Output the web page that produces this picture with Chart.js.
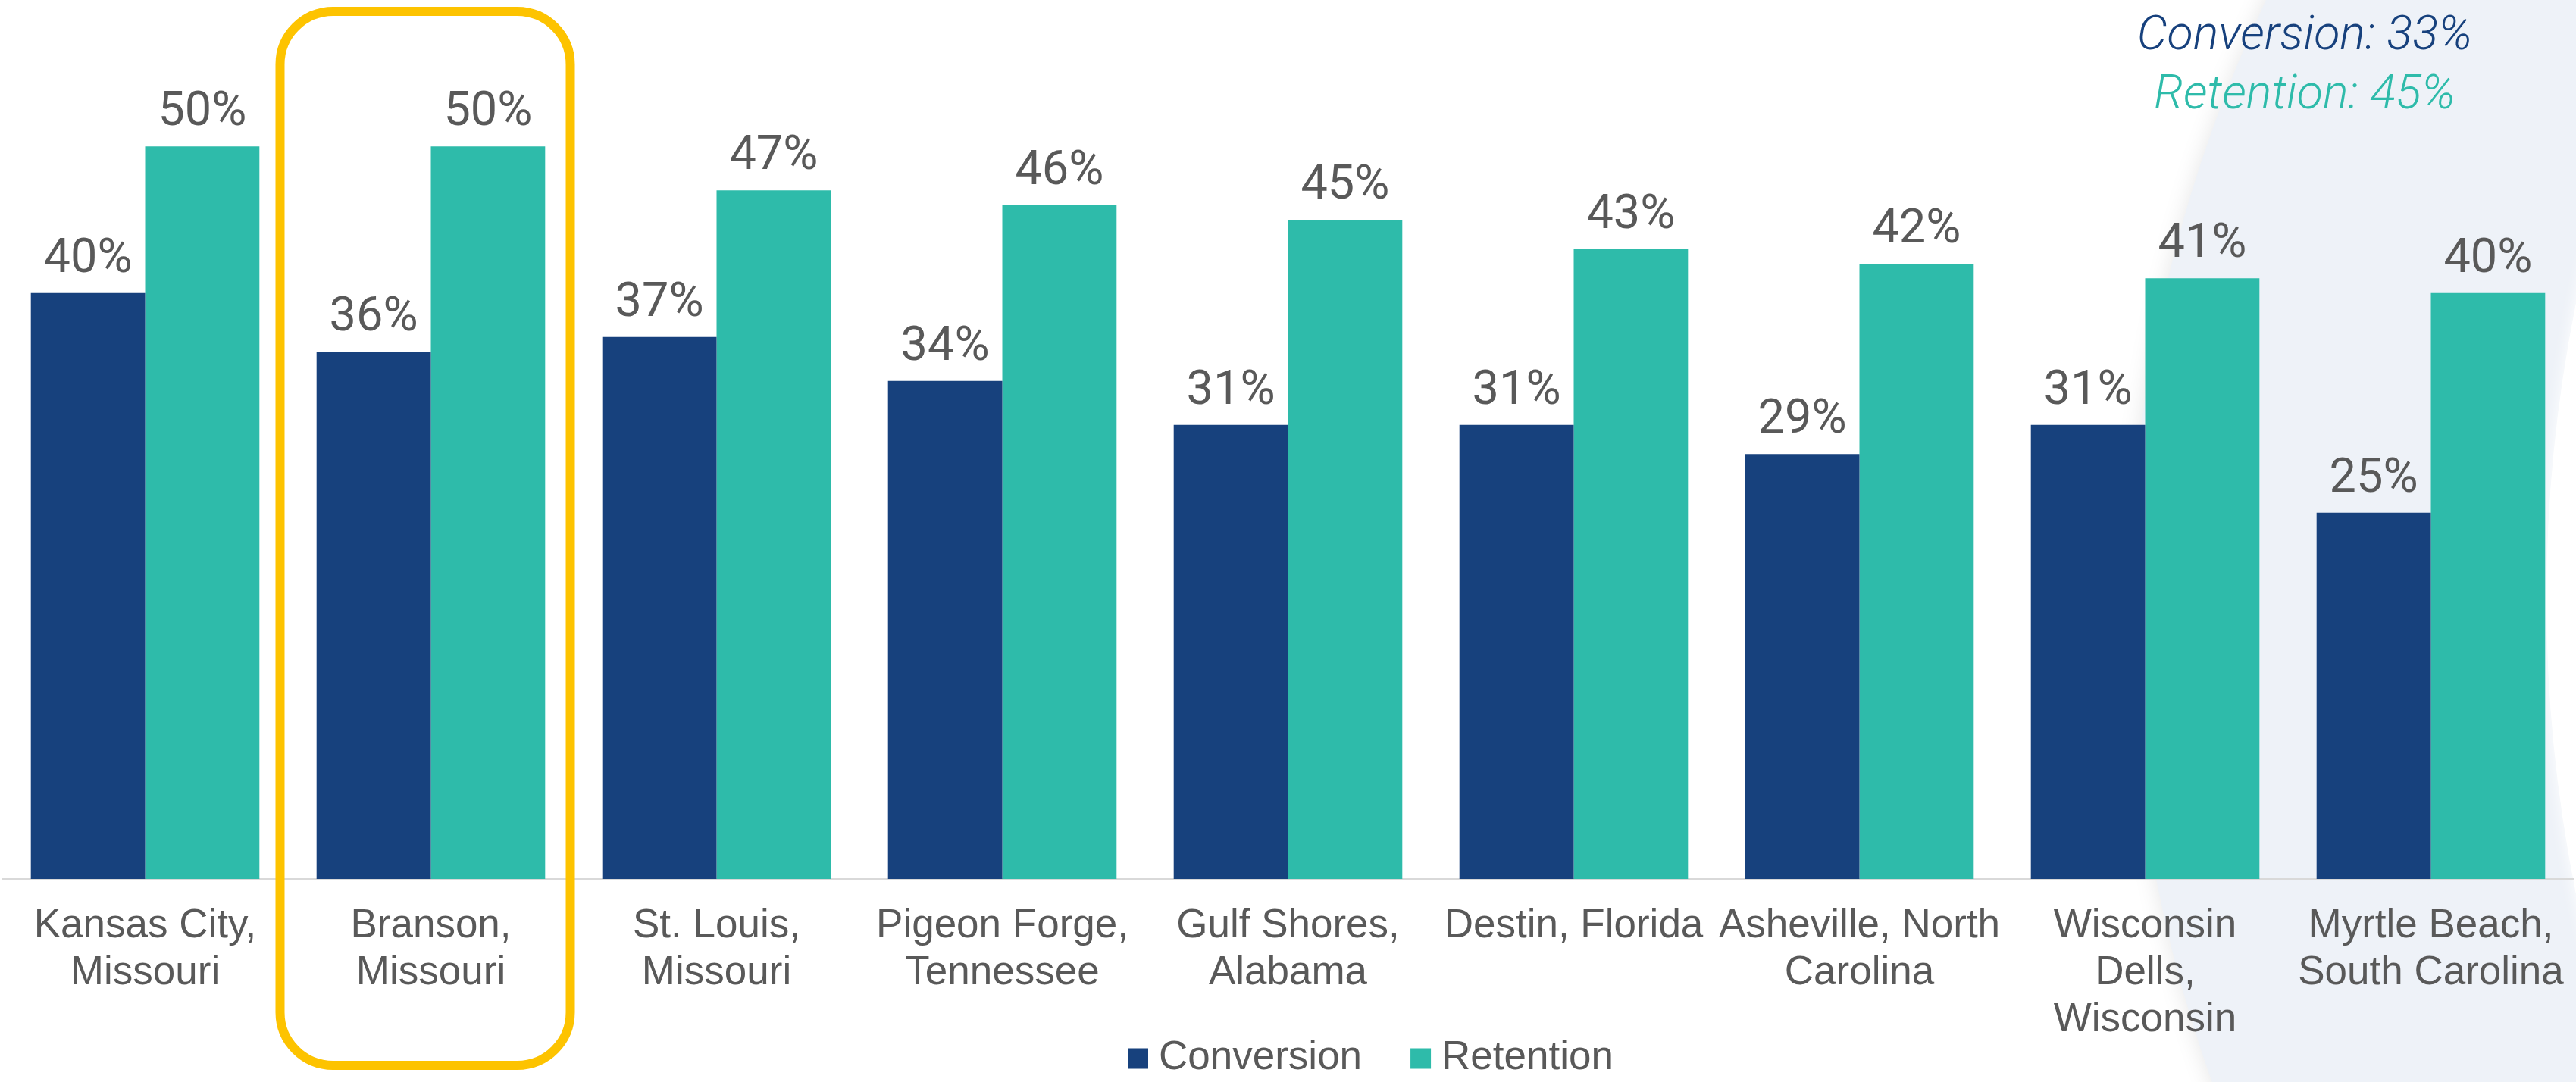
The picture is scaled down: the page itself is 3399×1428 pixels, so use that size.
<!DOCTYPE html>
<html>
<head>
<meta charset="utf-8">
<script src="https://cdn.jsdelivr.net/npm/chart.js@4.4.0/dist/chart.umd.min.js"></script>
<style>
    html, body { margin: 0; padding: 0; background: #ffffff; }
    #wrap { width: 3399px; height: 1428px; }
</style>
</head>
<body>
<div id="wrap"><canvas id="chartCanvas" width="3399" height="1428"></canvas></div>
<script>
"use strict";

const cities = [
    ['Kansas City,', 'Missouri'],
    ['Branson,', 'Missouri'],
    ['St. Louis,', 'Missouri'],
    ['Pigeon Forge,', 'Tennessee'],
    ['Gulf Shores,', 'Alabama'],
    ['Destin, Florida'],
    ['Asheville, North', 'Carolina'],
    ['Wisconsin', 'Dells,', 'Wisconsin'],
    ['Myrtle Beach,', 'South Carolina']
];
const conversion = [40, 36, 37, 34, 31, 31, 29, 31, 25];
const retention = [50, 50, 47, 46, 45, 43, 42, 41, 40];
const averageNotes = ['Conversion: 33%', 'Retention: 45%'];
const highlightIndex = 1; // Branson

const NAVY = '#17417D';
const TEAL = '#2EBBAA';
const GREY_TEXT = '#595959';
const SANS = '"Liberation Sans", Arial, sans-serif';

// soft page background: light swoosh on the right
const backdrop = {
    id: 'backdrop',
    beforeDraw(chart) {
        const ctx = chart.ctx;
        ctx.save();
        ctx.fillStyle = '#ffffff';
        ctx.fillRect(0, 0, chart.width, chart.height);

        ctx.shadowColor = 'rgba(0, 0, 0, 0.10)';
        ctx.shadowBlur = 30;
        ctx.fillStyle = '#EEF2F8';
        ctx.beginPath();
        ctx.arc(4678, 800, 1868, 0, Math.PI * 2);
        ctx.fill();

        ctx.shadowColor = 'rgba(255, 255, 255, 1)';
        ctx.shadowBlur = 20;
        ctx.fillStyle = '#ffffff';
        ctx.beginPath();
        ctx.arc(5329, 790, 1969, 0, Math.PI * 2);
        ctx.fill();
        ctx.restore();
    }
};

// percentage above every bar
const valueLabels = {
    id: 'valueLabels',
    afterDatasetsDraw(chart) {
        const ctx = chart.ctx;
        ctx.save();
        ctx.font = '63px Roboto, sans-serif';
        ctx.fillStyle = GREY_TEXT;
        ctx.textAlign = 'center';
        ctx.textBaseline = 'alphabetic';
        chart.data.datasets.forEach((ds, i) => {
            chart.getDatasetMeta(i).data.forEach((bar, j) => {
                ctx.fillText(ds.data[j] + '%', bar.x, bar.y - 28);
            });
        });
        ctx.restore();
    }
};

// rounded frame around the highlighted city, averages note and legend
const overlay = {
    id: 'overlay',
    afterDraw(chart) {
        const ctx = chart.ctx;
        const xc = chart.scales.x.getPixelForValue(highlightIndex);
        ctx.save();

        ctx.strokeStyle = '#FDC300';
        ctx.lineWidth = 12;
        ctx.beginPath();
        ctx.roundRect(xc - 199, 15, 383, 1391, 70);
        ctx.stroke();

        ctx.font = 'italic 300 63px Roboto, sans-serif';
        ctx.textAlign = 'center';
        ctx.textBaseline = 'alphabetic';
        ctx.fillStyle = NAVY;
        ctx.fillText(averageNotes[0], 3041, 65);
        ctx.fillStyle = TEAL;
        ctx.fillText(averageNotes[1], 3041, 143);

        // legend
        ctx.font = '53px ' + SANS;
        ctx.textAlign = 'left';
        ctx.textBaseline = 'middle';
        let x = 1488;
        const y = 1397;
        chart.data.datasets.forEach((ds) => {
            ctx.fillStyle = ds.backgroundColor;
            ctx.fillRect(x, y - 13.5, 27, 27);
            ctx.fillStyle = GREY_TEXT;
            ctx.fillText(ds.label, x + 41, y - 1);
            x += 41 + ctx.measureText(ds.label).width + 64;
        });
        ctx.restore();
    }
};

const ctx = document.getElementById('chartCanvas');

const data = {
    labels: cities,
    datasets: [
        {
            label: 'Conversion',
            data: conversion,
            backgroundColor: NAVY,
            borderWidth: 0,
            categoryPercentage: 0.8,
            barPercentage: 1.0
        },
        {
            label: 'Retention',
            data: retention,
            backgroundColor: TEAL,
            borderWidth: 0,
            categoryPercentage: 0.8,
            barPercentage: 1.0
        }
    ]
};

const config = {
    type: 'bar',
    data: data,
    options: {
        responsive: false,
        animation: false,
        layout: { padding: { left: 3, right: 3, top: 0, bottom: 0 } },
        plugins: {
            legend: { display: false },
            tooltip: { enabled: false }
        },
        scales: {
            x: {
                // tick marks are hidden, their length only spaces the labels down
                grid: { display: false, drawTicks: true, tickLength: 31 },
                border: { display: true, color: '#D9D9D9', width: 3 },
                ticks: {
                    color: GREY_TEXT,
                    font: { family: SANS, size: 53, lineHeight: 62 / 53 },
                    padding: 0,
                    maxRotation: 0,
                    autoSkip: false
                },
                afterFit(scale) {
                    scale.height = 268;
                }
            },
            y: {
                display: false,
                min: 0,
                max: 60
            }
        }
    },
    plugins: [backdrop, valueLabels, overlay]
};

new Chart(ctx, config);
</script>
</body>
</html>
